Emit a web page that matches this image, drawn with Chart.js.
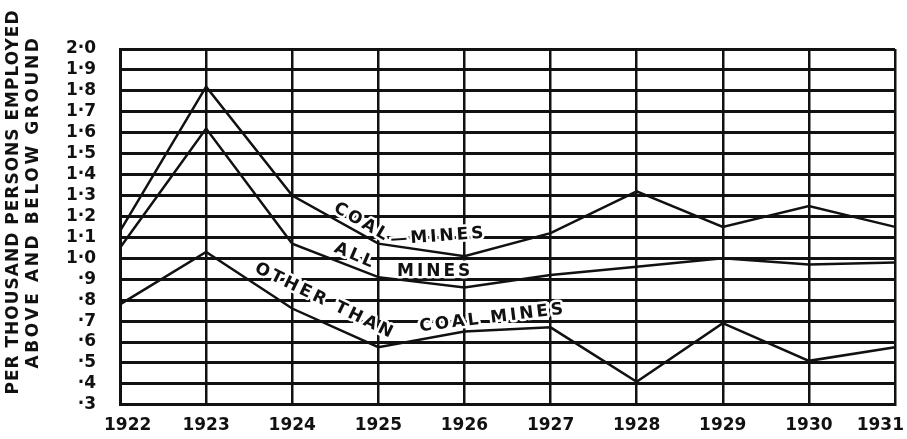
<!DOCTYPE html>
<html>
<head>
<meta charset="utf-8">
<script src="https://cdn.jsdelivr.net/npm/chart.js@4.4.1/dist/chart.umd.min.js"></script>
<style>
  html, body { margin: 0; padding: 0; background: #fff; }
  #wrap { width: 907px; height: 439px; }
</style>
</head>
<body>
<div id="wrap"><canvas id="accidentChart" width="907" height="439"></canvas></div>
<script>
// ===== Data =====
const years = ['1922','1923','1924','1925','1926','1927','1928','1929','1930','1931'];
const coalMines  = [1.13, 1.82, 1.30, 1.07, 1.01, 1.12, 1.32, 1.15, 1.25, 1.15];
const allMines   = [1.05, 1.62, 1.07, 0.91, 0.86, 0.92, 0.96, 1.00, 0.97, 0.98];
const otherMines = [0.78, 1.03, 0.76, 0.575, 0.65, 0.67, 0.41, 0.69, 0.51, 0.575];

const yTickValues = [0.3,0.4,0.5,0.6,0.7,0.8,0.9,1.0,1.1,1.2,1.3,1.4,1.5,1.6,1.7,1.8,1.9,2.0];
const yTickLabels = ['·3','·4','·5','·6','·7','·8','·9','1·0','1·1','1·2','1·3','1·4','1·5','1·6','1·7','1·8','1·9','2·0'];
const yTitle = ['PER THOUSAND PERSONS EMPLOYED', 'ABOVE AND BELOW GROUND'];

// ===== Styling =====
const INK = '#111';
const FONT = '"DejaVu Sans", sans-serif';

// labels written along the lines, anchored in data units (x = year index)
const lineLabels = [
  { text: 'COAL',       x: 2.81, y: 1.171, angle: 30 },
  { text: '—MINES',     x: 3.14, y: 1.087, angle: -4, align: 'left' },
  { text: 'ALL',        x: 2.73, y: 1.011, angle: 23 },
  { text: 'MINES',      x: 3.66, y: 0.936, angle: 0 },
  { text: 'OTHER THAN', x: 2.38, y: 0.795, angle: 26 },
  { text: 'COAL MINES', x: 4.33, y: 0.715, angle: -7 }
];

// ===== Extra drawing: line labels, year labels, axis title =====
const decor = {
  id: 'decor',
  afterDraw(chart) {
    const { ctx, chartArea, scales: { x, y } } = chart;
    ctx.save();
    ctx.fillStyle = INK;
    ctx.textBaseline = 'middle';

    // words along the lines
    ctx.font = `bold 17px ${FONT}`;
    ctx.letterSpacing = '3px';
    lineLabels.forEach(l => {
      ctx.save();
      ctx.translate(x.getPixelForValue(l.x), y.getPixelForValue(l.y));
      ctx.rotate(l.angle * Math.PI / 180);
      ctx.textAlign = l.align || 'center';
      ctx.lineWidth = 5;
      ctx.lineJoin = 'round';
      ctx.strokeStyle = '#fff';
      ctx.strokeText(l.text, 0, 0);
      ctx.fillText(l.text, 0, 0);
      ctx.restore();
    });

    // year labels under the grid
    ctx.letterSpacing = '0px';
    ctx.textAlign = 'center';
    years.forEach((yr, i) => {
      const w = ctx.measureText(yr).width;
      let px = x.getPixelForValue(i);
      px = Math.min(Math.max(px, 104 + w / 2), chart.width - 3 - w / 2);
      ctx.fillText(yr, px, chartArea.bottom + 21);
    });

    // rotated y title, two lines
    const titleRows = [{ cx: 14, spacing: 1 }, { cx: 34, spacing: 2.6 }];
    titleRows.forEach((r, i) => {
      ctx.save();
      ctx.translate(r.cx, chartArea.top + 153);
      ctx.rotate(-Math.PI / 2);
      ctx.letterSpacing = r.spacing + 'px';
      ctx.fillText(yTitle[i], 0, 0);
      ctx.restore();
    });
    ctx.restore();
  }
};

// ===== Chart =====
const makeSet = (label, data) => ({
  label, data,
  borderColor: INK, borderWidth: 2.5,
  pointRadius: 0, tension: 0, fill: false
});

const chart = new Chart(document.getElementById('accidentChart').getContext('2d'), {
  type: 'line',
  data: {
    labels: years,
    datasets: [
      makeSet('Coal mines', coalMines),
      makeSet('All mines', allMines),
      makeSet('Other than coal mines', otherMines)
    ]
  },
  options: {
    responsive: false,
    animation: false,
    layout: { padding: { top: 49, right: 12, left: 0, bottom: 0 } },
    plugins: { legend: { display: false }, tooltip: { enabled: false } },
    scales: {
      x: {
        type: 'category',
        offset: false,
        grid: { color: INK, lineWidth: 2.5, drawTicks: false },
        border: { color: INK, width: 3 },
        ticks: { display: false, autoSkip: false },
        afterFit(s) { s.height = 29; s.paddingLeft = 0; s.paddingRight = 0; }
      },
      y: {
        min: 0.3, max: 2.0,
        grid: { color: INK, lineWidth: 3, drawTicks: false },
        border: { color: INK, width: 3 },
        afterBuildTicks(s) { s.ticks = yTickValues.map(v => ({ value: v })); },
        ticks: {
          autoSkip: false,
          color: INK,
          padding: 24,
          font: { family: FONT, size: 17, weight: 'bold' },
          callback: v => yTickLabels[yTickValues.findIndex(t => Math.abs(t - v) < 1e-6)]
        },
        afterFit(s) { s.width = 120; }
      }
    }
  },
  plugins: [decor]
});
</script>
</body>
</html>
